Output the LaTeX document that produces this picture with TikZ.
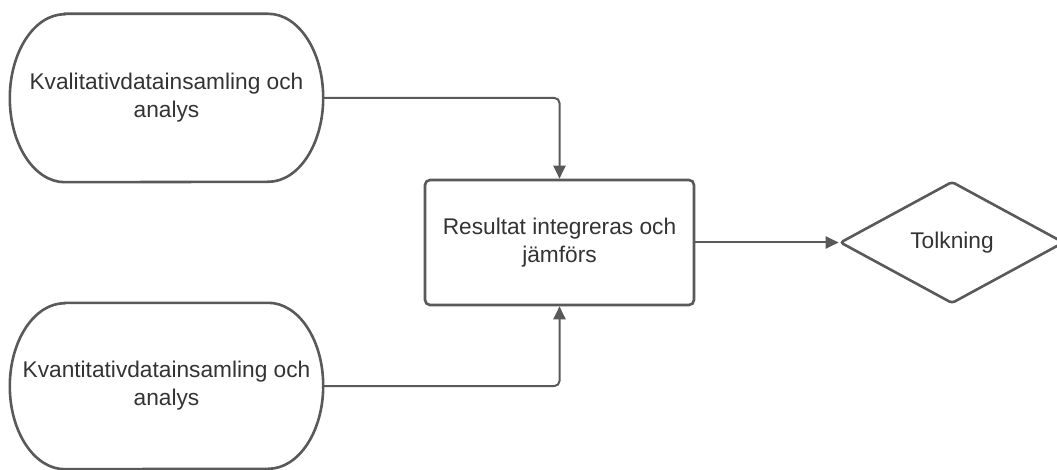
\documentclass[tikz,border=0pt]{standalone}
\usepackage{fontspec}
\setmainfont{Liberation Sans}
\usetikzlibrary{arrows.meta,shapes.geometric}
\definecolor{lineg}{HTML}{595959}
\definecolor{textg}{HTML}{333333}
\tikzset{
  lbl/.style={text=textg,font=\fontsize{22.7}{28}\selectfont,align=center,inner sep=0pt},
  outline/.style={draw=lineg,line width=2.6pt},
  conn/.style={draw=lineg,line width=2pt,rounded corners=5pt,-{Triangle[length=13pt,width=12pt]}},
  boxstyle/.style={outline,rounded corners=5pt,minimum width=269pt,minimum height=125pt},
  diastyle/.style={outline,diamond,rounded corners=3pt,minimum width=224pt,minimum height=122pt,aspect=1.836}
}
\begin{document}
\begin{tikzpicture}[x=1pt,y=-1pt]
\useasboundingbox (0,0) rectangle (1057,470);
% top terminator
\node[lbl,minimum width=313pt,minimum height=168pt] (q1) at (166.5,98) {Kvalitativdatainsamling och\\analys};
\draw[outline] ([xshift=55pt]q1.north west) -- ([xshift=-55pt]q1.north east)
  arc[start angle=90,end angle=-90,x radius=55pt,y radius=84pt]
  -- ([xshift=55pt]q1.south west)
  arc[start angle=270,end angle=90,x radius=55pt,y radius=84pt] -- cycle;
% bottom terminator
\node[lbl,minimum width=313pt,minimum height=166pt] (q2) at (166.5,386) {Kvantitativdatainsamling och\\analys};
\draw[outline] ([xshift=55pt]q2.north west) -- ([xshift=-55pt]q2.north east)
  arc[start angle=90,end angle=-90,x radius=55pt,y radius=83pt]
  -- ([xshift=55pt]q2.south west)
  arc[start angle=270,end angle=90,x radius=55pt,y radius=83pt] -- cycle;
% center box
\node[lbl,boxstyle] (r) at (559.5,242.5) {Resultat integreras och\\jämförs};
% diamond
\node[lbl,diastyle] (t) at (952,242.5) {Tolkning};
% connectors
\draw[conn] (q1.east) -| (r.north);
\draw[conn] (q2.east) -| (r.south);
\draw[conn] (r.east) -- (t.west);
\end{tikzpicture}
\end{document}
